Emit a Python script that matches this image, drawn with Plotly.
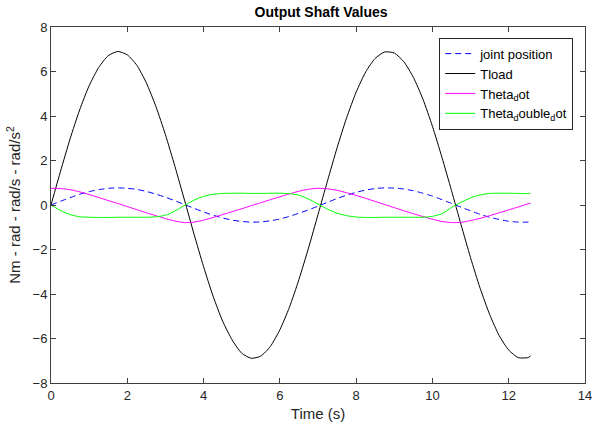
import plotly.graph_objects as go

# Time samples (s)
time_s = [0, 0.25, 0.5, 0.75, 1.0, 1.25, 1.5, 1.75, 2.0, 2.25, 2.5, 2.75, 3.0, 3.25,
          3.5, 3.75, 4.0, 4.25, 4.5, 4.75, 5.0, 5.25, 5.5, 5.75, 6.0, 6.25, 6.5, 6.75,
          7.0, 7.25, 7.5, 7.75, 8.0, 8.25, 8.5, 8.75, 9.0, 9.25, 9.5, 9.75, 10.0,
          10.25, 10.5, 10.75, 11.0, 11.25, 11.5, 11.75, 12.0, 12.25, 12.5, 12.57]

joint_position = [0, 0.17, 0.33, 0.48, 0.60, 0.69, 0.75, 0.77, 0.75, 0.70, 0.61, 0.49,
                  0.35, 0.19, 0.02, -0.15, -0.31, -0.46, -0.58, -0.68, -0.74, -0.77,
                  -0.76, -0.71, -0.63, -0.51, -0.37, -0.22, -0.05, 0.12, 0.29, 0.44,
                  0.57, 0.67, 0.74, 0.77, 0.76, 0.72, 0.64, 0.53, 0.40, 0.24, 0.07,
                  -0.10, -0.26, -0.42, -0.55, -0.65, -0.73, -0.77, -0.77, -0.76]

tload = [0, 1.52, 2.97, 4.27, 5.36, 6.18, 6.71, 6.90, 6.75, 6.28, 5.49, 4.43, 3.16,
         1.73, 0.22, -1.31, -2.77, -4.10, -5.22, -6.07, -6.66, -6.89, -6.79, -6.36,
         -5.61, -4.60, -3.35, -1.94, -0.43, 1.09, 2.57, 3.92, 5.07, 5.98, 6.59, 6.88,
         6.83, 6.44, 5.74, 4.76, 3.54, 2.14, 0.65, -0.88, -2.37, -3.74, -4.92, -5.87,
         -6.52, -6.86, -6.86, -6.79]

theta_dot = [0.75, 0.74, 0.69, 0.59, 0.47, 0.34, 0.20, 0.07, -0.07, -0.21, -0.35,
             -0.48, -0.61, -0.72, -0.79, -0.77, -0.68, -0.56, -0.43, -0.30, -0.17,
             -0.03, 0.10, 0.24, 0.37, 0.50, 0.62, 0.71, 0.75, 0.73, 0.66, 0.55, 0.43,
             0.30, 0.16, 0.02, -0.12, -0.26, -0.39, -0.52, -0.64, -0.74, -0.79, -0.78,
             -0.70, -0.60, -0.48, -0.35, -0.22, -0.09, 0.05, 0.08]

theta_double_dot = [0, -0.25, -0.43, -0.53, -0.55, -0.56, -0.56, -0.55, -0.55, -0.55,
                    -0.55, -0.53, -0.46, -0.27, -0.02, 0.22, 0.39, 0.48, 0.52, 0.53,
                    0.53, 0.52, 0.52, 0.53, 0.53, 0.51, 0.44, 0.27, 0.04, -0.19, -0.37,
                    -0.48, -0.54, -0.56, -0.56, -0.55, -0.55, -0.55, -0.55, -0.55,
                    -0.51, -0.39, -0.11, 0.12, 0.32, 0.45, 0.52, 0.53, 0.53, 0.52,
                    0.51, 0.51]

x_ticks = [0, 2, 4, 6, 8, 10, 12, 14]
y_ticks = [-8, -6, -4, -2, 0, 2, 4, 6, 8]

FONT = "Liberation Sans, Arial, Helvetica, sans-serif"

fig = go.Figure()
fig.add_trace(go.Scatter(x=time_s, y=joint_position, mode="lines", name="joint position",
                         line=dict(color="#0000ff", width=1, dash="6px,4px", shape="spline", smoothing=0.6)))
fig.add_trace(go.Scatter(x=time_s, y=tload, mode="lines", name="Tload",
                         line=dict(color="#000000", width=1, shape="spline", smoothing=0.6)))
fig.add_trace(go.Scatter(x=time_s, y=theta_dot, mode="lines", name="Theta<sub>d</sub>ot",
                         line=dict(color="#ff00ff", width=1, shape="spline", smoothing=0.6)))
fig.add_trace(go.Scatter(x=time_s, y=theta_double_dot, mode="lines",
                         name="Theta<sub>d</sub>ouble<sub>d</sub>ot",
                         line=dict(color="#00ff00", width=1, shape="spline", smoothing=0.6)))

axis_common = dict(showgrid=False, zeroline=False, showline=True, linecolor="#404040",
                   linewidth=1, mirror="ticks", ticks="inside", ticklen=5,
                   tickcolor="#404040", ticklabeloverflow="allow",
                   tickfont=dict(size=13, color="#262626", family=FONT))

fig.update_layout(
    width=599, height=428,
    margin=dict(l=51, r=7, t=27, b=45),
    paper_bgcolor="white", plot_bgcolor="white",
    font=dict(family=FONT, color="#262626"),
    title=dict(text="<b>Output Shaft Values</b>", x=0.536, xanchor="center",
               y=0.972, yanchor="middle", font=dict(size=14, color="#000000", family=FONT)),
    xaxis=dict(range=[0, 14], tickvals=x_ticks,
               title=dict(text="Time (s)", font=dict(size=15, family=FONT), standoff=6),
               **axis_common),
    yaxis=dict(range=[-8, 8], tickvals=y_ticks,
               title=dict(text="Nm - rad - rad/s - rad/s<sup>2</sup>", font=dict(size=15, family=FONT),
                          standoff=8),
               **axis_common),
    legend=dict(x=0.727, y=0.97, xanchor="left", yanchor="top",
                bgcolor="white", bordercolor="#262626", borderwidth=1,
                font=dict(size=13, color="#000000", family=FONT), tracegroupgap=0),
    showlegend=True,
)

fig.write_html("out.html")
